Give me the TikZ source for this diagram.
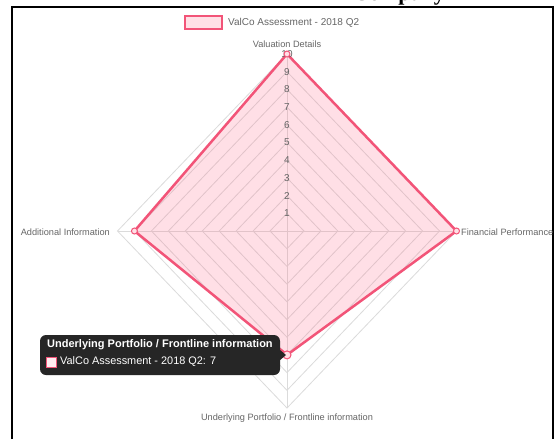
\documentclass[tikz,border=0pt]{standalone}
\usepackage{fontspec}
\setmainfont{Liberation Sans}
\newfontfamily\serifb{Liberation Serif}
\definecolor{dred}{RGB}{242,84,120}
\definecolor{dfill}{RGB}{255,99,132}
\definecolor{lbl}{RGB}{102,102,102}
\begin{document}
\begin{tikzpicture}[x=1pt,y=-1pt,
 lab/.style={text=lbl, font=\fontsize{9.2}{11}\selectfont, inner sep=0pt},
 ticklab/.style={text=lbl, font=\fontsize{10}{12}\selectfont, inner sep=0pt},
 gridl/.style={draw=black!14, line width=0.8pt},
 ptmark/.style={circle, draw=dred, fill=dfill!20, line width=1pt, minimum size=6pt, inner sep=0pt},
 tiptext/.style={anchor=west, text=white, inner sep=0pt}]
\useasboundingbox (0,0) rectangle (560,440);
\fill[white] (0,0) rectangle (560,440);
\def\cx{287}\def\cy{231}\def\rx{16.95}\def\ry{17.7}
% cropped heading
\begin{scope}
\clip (0,0) rectangle (560,6);
\node[anchor=base east, font=\serifb\bfseries\fontsize{22}{24}\selectfont, inner sep=0pt] (head) at (445,0.8) {Company};
\end{scope}
% frame
\draw[line width=2.5pt] (12,439) -- (12,7) -- (553,7) -- (553,439);
% grid
\foreach \k in {1,...,10}{
 \draw[gridl] (\cx,\cy-\k*\ry) -- (\cx+\k*\rx,\cy) -- (\cx,\cy+\k*\ry) -- (\cx-\k*\rx,\cy) -- cycle;
}
\coordinate (c) at (\cx,\cy);
\coordinate (at) at (\cx,\cy-10*\ry);
\coordinate (ar) at (\cx+10*\rx,\cy);
\coordinate (ab) at (\cx,\cy+10*\ry);
\coordinate (al) at (\cx-10*\rx,\cy);
\draw[gridl] (c) -- (at) (c) -- (ar) (c) -- (ab) (c) -- (al);
% data
\coordinate (vt) at (\cx,\cy-10*\ry);
\coordinate (vr) at (\cx+10*\rx,\cy);
\coordinate (vb) at (\cx,\cy+7*\ry);
\coordinate (vl) at (\cx-9*\rx,\cy);
\fill[dfill, fill opacity=0.2] (vt) -- (vr) -- (vb) -- (vl) -- cycle;
\draw[dred, line width=2.5pt, line join=miter] (vt) -- (vr) -- (vb) -- (vl) -- cycle;
% ticks
\foreach \k in {1,...,10}{
 \node[ticklab] (t\k) at (\cx,\cy-\k*\ry) {\k};
}
% points
\node[ptmark] (pt) at (vt) {};
\node[ptmark] (pr) at (vr) {};
\node[ptmark] (pl) at (vl) {};
\node[ptmark, minimum size=8pt] (pb) at (vb) {};
% point labels
\node[lab] (lv) at (287,44) {Valuation Details};
\node[lab, anchor=west] (lf) at (461,232) {Financial Performance};
\node[lab, anchor=east] (la) at (110,232) {Additional Information};
\node[lab] (lu) at (287,418) {Underlying Portfolio / Frontline information};
% legend
\draw[dred, fill=dfill!20, line width=2pt] (185,16) rectangle (222,29);
\node[anchor=west, text=lbl, font=\fontsize{10}{12}\selectfont, inner sep=0pt] (leg) at (228,22.5) {ValCo Assessment - 2018 Q2};
% tooltip
\fill[black!85, rounded corners=6pt] (40,335) rectangle (280,375);
\fill[black!85] (279,349) -- (286,355) -- (279,361) -- cycle;
\node[tiptext, font=\bfseries\fontsize{11}{13}\selectfont] (tt) at (47,345) {Underlying Portfolio / Frontline information};
\draw[dred, fill=dfill!12, line width=1pt] (46,357) rectangle (56,367);
\node[tiptext, font=\fontsize{10.9}{13}\selectfont] (tb) at (60,362) {ValCo Assessment - 2018 Q2: 7};
\end{tikzpicture}
\end{document}
